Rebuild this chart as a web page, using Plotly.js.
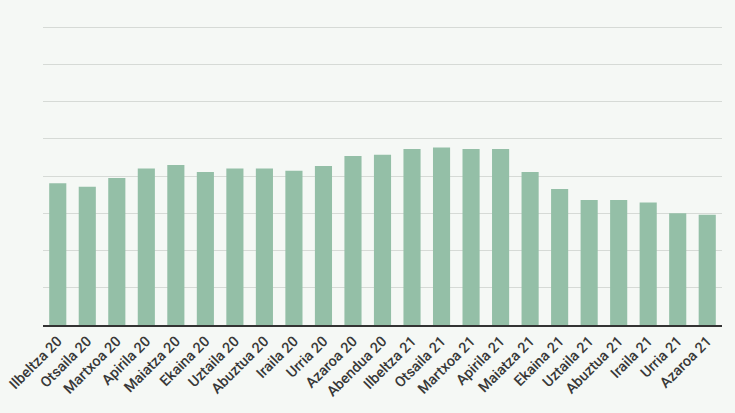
<!DOCTYPE html>
<html>
<head>
<meta charset="utf-8">
<script src="https://cdn.plot.ly/plotly-3.0.1.min.js"></script>
<style>html,body{margin:0;padding:0;background:#f5f8f5;}#chart{width:735px;height:413px;}</style>
</head>
<body>
<div id="chart"></div>
<script>
const categories = ["Ilbeltza 20","Otsaila 20","Martxoa 20","Apirila 20","Maiatza 20","Ekaina 20","Uztaila 20","Abuztua 20","Iraila 20","Urria 20","Azaroa 20","Abendua 20","Ilbeltza 21","Otsaila 21","Martxoa 21","Apirila 21","Maiatza 21","Ekaina 21","Uztaila 21","Abuztua 21","Iraila 21","Urria 21","Azaroa 21"];
const values = [3.81,3.71,3.95,4.20,4.30,4.11,4.20,4.20,4.14,4.27,4.54,4.57,4.73,4.77,4.73,4.73,4.11,3.65,3.36,3.36,3.29,3.00,2.96];

Plotly.newPlot('chart', [{
  type: 'bar',
  x: categories,
  y: values,
  marker: {color: '#94bfa7'},
  hoverinfo: 'x+y'
}], {
  width: 735, height: 413,
  paper_bgcolor: '#f5f8f5',
  plot_bgcolor: '#f5f8f5',
  margin: {l: 43, r: 13, t: 26, b: 88},
  bargap: 0.42,
  showlegend: false,
  font: {family: 'Roboto, sans-serif', color: '#333333', size: 14},
  xaxis: {
    type: 'category',
    tickangle: -45,
    showline: true,
    linecolor: '#333333',
    linewidth: 2,
    ticks: '',
    showgrid: false,
    tickfont: {size: 14.5, color: '#383838', weight: 500}
  },
  yaxis: {
    range: [0, 8.03],
    dtick: 1,
    showticklabels: false,
    showgrid: true,
    gridcolor: '#d6dad6',
    gridwidth: 1,
    zeroline: false,
    ticks: ''
  }
}, {displayModeBar: false, staticPlot: true});
</script>
</body>
</html>
